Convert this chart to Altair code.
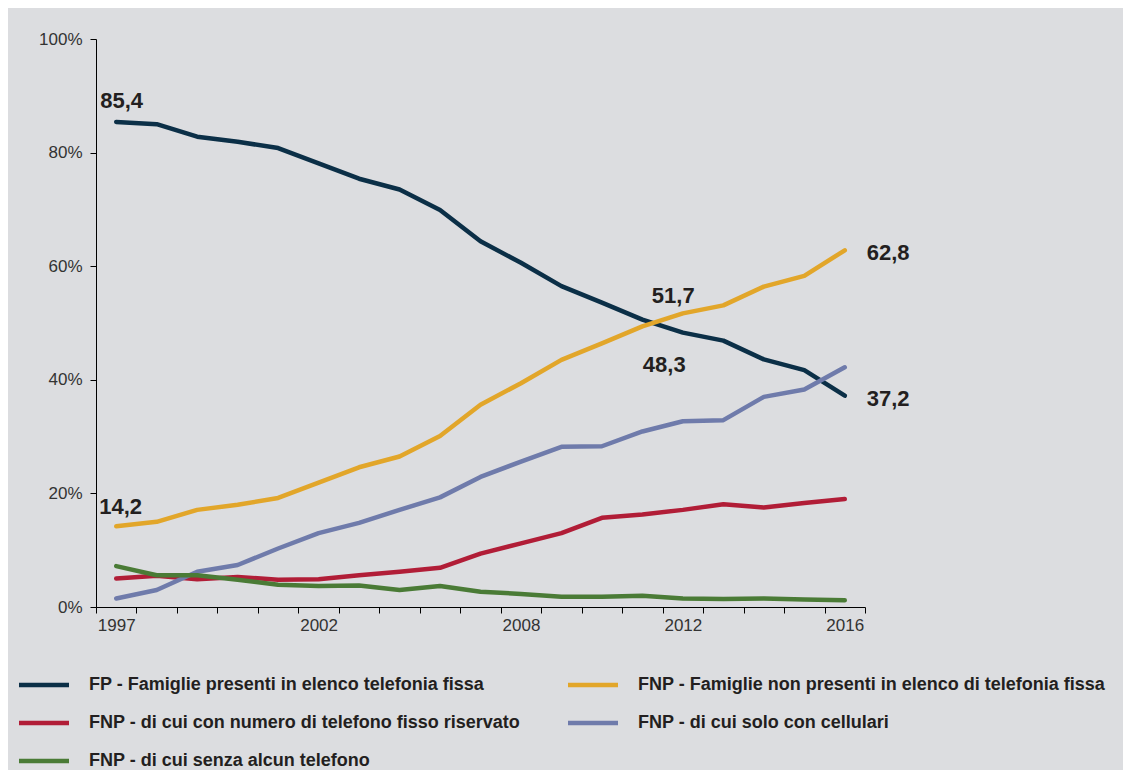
import json
import altair as alt
import pandas as pd

years = ["1997", "1998", "1999", "2000", "2001", "2002", "2003", "2005", "2006", "2007",
         "2008", "2009", "2010", "2011", "2012", "2013", "2014", "2015", "2016"]
labeled_years = ["1997", "2002", "2008", "2012", "2016"]

fp = [85.4, 85.0, 82.8, 81.9, 80.8, 78.1, 75.4, 73.5, 69.9, 64.4,
      60.6, 56.5, 53.6, 50.6, 48.3, 46.9, 43.6, 41.7, 37.2]
fnp = [14.2, 15.0, 17.1, 18.0, 19.2, 21.9, 24.6, 26.5, 30.1, 35.6,
       39.4, 43.5, 46.4, 49.4, 51.7, 53.1, 56.4, 58.3, 62.8]
riservato = [5.0, 5.5, 4.9, 5.3, 4.8, 4.9, 5.6, 6.2, 6.9, 9.4,
             11.2, 13.0, 15.7, 16.3, 17.1, 18.1, 17.5, 18.3, 19.0]
cellulari = [1.5, 3.0, 6.2, 7.4, 10.3, 13.0, 14.8, 17.1, 19.3, 22.9,
             25.6, 28.2, 28.3, 30.9, 32.7, 32.9, 37.0, 38.3, 42.2]
senza = [7.2, 5.6, 5.6, 4.8, 3.9, 3.7, 3.8, 3.0, 3.7, 2.7,
         2.3, 1.8, 1.8, 2.0, 1.5, 1.4, 1.5, 1.3, 1.2]

series_names = [
    "FP - Famiglie presenti in elenco telefonia fissa",
    "FNP - Famiglie non presenti in elenco di telefonia fissa",
    "FNP - di cui con numero di telefono fisso riservato",
    "FNP - di cui solo con cellulari",
    "FNP - di cui senza alcun telefono",
]
series_values = [fp, fnp, riservato, cellulari, senza]
colors = ["#0b2f47", "#e2a62a", "#b11d37", "#6f7bab", "#4a7b36"]

# annotated points: (series index, year, dx, dy)
annotations = [
    (0, "1997", -16, -14),
    (1, "1997", -17, -12),
    (1, "2012", -31, -10),
    (0, "2012", -40, 39),
    (1, "2016", 22, 10),
    (0, "2016", 22, 10),
]

FONT = "Liberation Sans"
W, H = 769, 568
band = W / len(years)

rows = []
for name, vals in zip(series_names, series_values):
    for i, (y, v) in enumerate(zip(years, vals)):
        rows.append({"serie": name, "idx": i, "anno": y, "valore": v})
df = pd.DataFrame(rows)

tick_labels = [y if y in labeled_years else "" for y in years] + [""]
label_expr = json.dumps(tick_labels) + "[round(datum.value + 0.5)]"

x_enc = alt.X(
    "idx:Q",
    scale=alt.Scale(domain=[-0.5, len(years) - 0.5], nice=False, zero=False),
    axis=alt.Axis(
        values=[i - 0.5 for i in range(len(years) + 1)],
        labelExpr=label_expr,
        labelOffset=band / 2,
        labelFlush=False,
        labelOverlap=False,
        title=None,
        grid=False,
        tickSize=6,
        labelPadding=4,
    ),
)
y_enc = alt.Y(
    "valore:Q",
    scale=alt.Scale(domain=[0, 100], nice=False),
    axis=alt.Axis(
        values=[0, 20, 40, 60, 80, 100],
        labelExpr="datum.value + '%'",
        title=None,
        grid=False,
        tickSize=6,
        labelPadding=8,
    ),
)

lines = alt.Chart(df).mark_line(strokeWidth=4.5, strokeCap="round", strokeJoin="round").encode(
    x=x_enc,
    y=y_enc,
    color=alt.Color(
        "serie:N",
        scale=alt.Scale(domain=series_names, range=colors),
        sort=series_names,
        legend=alt.Legend(
            title=None,
            orient="none",
            direction="horizontal",
            legendX=-67,
            legendY=631,
            columns=2,
            columnPadding=38,
            rowPadding=14,
            symbolType="M-2,0H2",
            symbolSize=625,
            symbolStrokeWidth=4.5,
            labelOffset=30,
            labelFontSize=18,
            labelFontWeight="bold",
            labelFont=FONT,
            labelColor="#231f20",
            labelLimit=600,
            padding=0,
        ),
    ),
    order=alt.Order("idx:Q"),
)

layers = [lines]
for s_idx, yr, dx, dy in annotations:
    i = years.index(yr)
    v = series_values[s_idx][i]
    ann = pd.DataFrame({"idx": [i], "valore": [v], "testo": [f"{v:.1f}".replace(".", ",")]})
    layers.append(
        alt.Chart(ann).mark_text(
            align="left", baseline="alphabetic", dx=dx, dy=dy,
            fontSize=22, fontWeight="bold", font=FONT, color="#231f20",
        ).encode(x="idx:Q", y="valore:Q", text="testo:N")
    )

chart = alt.layer(*layers).properties(
    width=W,
    height=H,
    autosize=alt.AutoSizeParams(type="none"),
    padding={"left": 88, "top": 31, "right": 258, "bottom": 163},
    background="#dcdde0",
).configure_view(stroke=None).configure_axis(
    domainColor="#000000",
    tickColor="#000000",
    domainWidth=1,
    tickWidth=1,
    labelFont=FONT,
    labelFontSize=17,
    labelColor="#333333",
)

chart.save("out.html", embed_options={"renderer": "svg", "actions": False})
